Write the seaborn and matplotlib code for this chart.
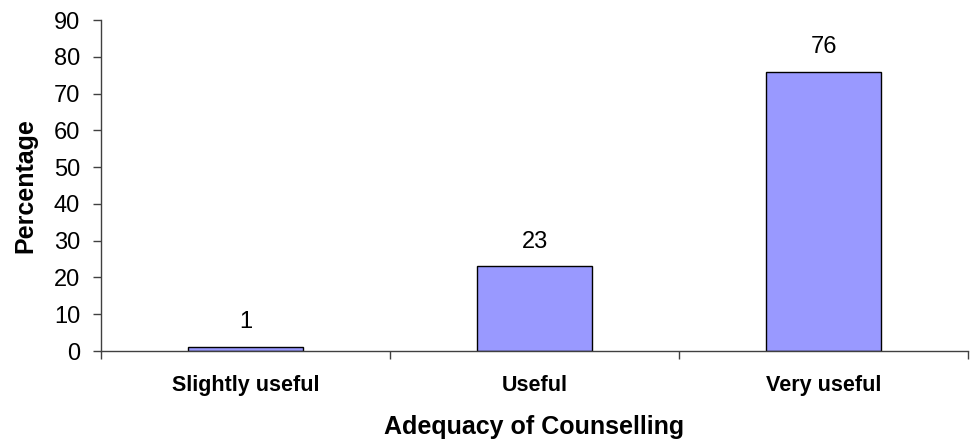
import seaborn as sns
import matplotlib.pyplot as plt
import pandas as pd

categories = ["Slightly useful", "Useful", "Very useful"]
percentages = [1, 23, 76]

sns.set_theme(style="white")
plt.rcParams["font.family"] = ["Liberation Sans", "DejaVu Sans"]
plt.rcParams.update({
    "text.color": "black",
    "axes.labelcolor": "black",
    "xtick.color": "black",
    "ytick.color": "black",
})

df = pd.DataFrame({"category": categories, "pct": percentages})

fig = plt.figure(figsize=(9.71, 4.46), dpi=100)
ax = fig.add_axes([0.104, 0.213, 0.893, 0.742])

sns.barplot(data=df, x="category", y="pct", ax=ax, color="#9999FF",
            saturation=1, width=0.4, edgecolor="black", linewidth=1)

# value labels above the bars
for i, v in enumerate(percentages):
    ax.annotate(str(v), (i, v), xytext=(0, 10), textcoords="offset points",
                ha="center", va="bottom", fontsize=17, color="black")

ax.set_xlim(-0.5, 2.5)
ax.set_ylim(0, 90)
ax.set_yticks(range(0, 91, 10))
ax.tick_params(axis="y", labelsize=17, length=6, width=1, color="#404040",
               left=True, pad=9, labelcolor="black")
ax.tick_params(axis="x", which="major", length=0, pad=17, labelsize=15.5,
               labelcolor="black")
for lbl in ax.get_xticklabels():
    lbl.set_fontweight("bold")
ax.set_xticks([-0.5, 0.5, 1.5, 2.5], minor=True)
ax.tick_params(axis="x", which="minor", length=6, width=1, color="#404040", bottom=True)

ax.set_xlabel("Adequacy of Counselling", fontsize=18, fontweight="bold",
              labelpad=14, color="black")
ax.set_ylabel("Percentage", fontsize=18, fontweight="bold", labelpad=12, color="black")

sns.despine(ax=ax)
for side in ("left", "bottom"):
    ax.spines[side].set_color("#404040")
    ax.spines[side].set_linewidth(1)

fig.savefig("out.png", dpi=100, facecolor="white")
